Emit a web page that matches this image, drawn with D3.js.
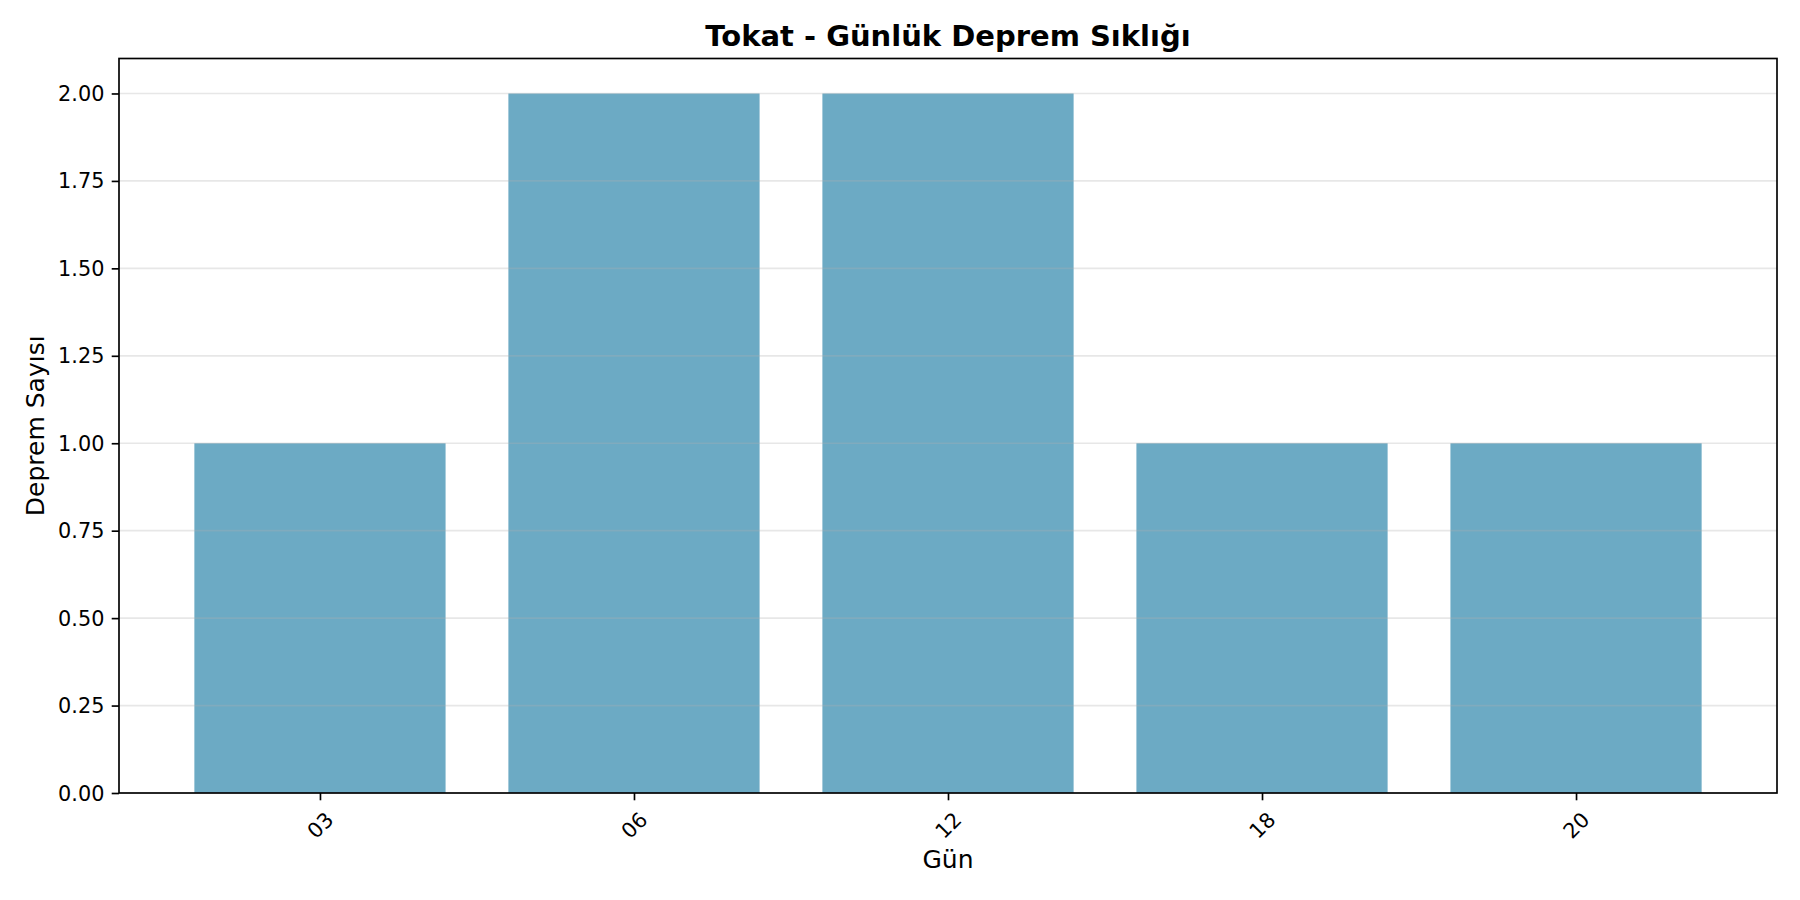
<!DOCTYPE html>
<html>
<head>
<meta charset="utf-8">
<script src="https://d3js.org/d3.v7.min.js"></script>
<style>
  body { margin: 0; background: #fff; }
  text { font-family: "DejaVu Sans", sans-serif; fill: #000; }
</style>
</head>
<body>
<div id="chart"></div>
<script>
// data
var days = ["03", "06", "12", "18", "20"]
var counts = [1, 2, 2, 1, 1]
var yTicks = [0, 0.25, 0.5, 0.75, 1, 1.25, 1.5, 1.75, 2]

var W = 1800, H = 900
// note: "top" is a read-only window property, so use other names
var axLeft = 119, axRight = 1777, axTop = 58.5, axBottom = 793
var tickLen = 7.3, pad = 7.3

var svg = d3.select("#chart").append("svg")
  .attr("width", W).attr("height", H)

// matplotlib-like limits: bars of width 0.8 and 5% margins
var x = d3.scaleLinear().domain([-0.64, days.length - 1 + 0.64]).range([axLeft, axRight])
var y = d3.scaleLinear().domain([0, 2.1]).range([axBottom, axTop])
var barW = 0.8

// bars
svg.append("g").selectAll("rect")
  .data(counts)
  .enter().append("rect")
  .attr("x", function(d, i) { return x(i - barW / 2) })
  .attr("y", function(d) { return y(d) })
  .attr("width", function(d, i) { return x(i + barW / 2) - x(i - barW / 2) })
  .attr("height", function(d) { return y(0) - y(d) })
  .style("fill", "#2E86AB")
  .style("fill-opacity", 0.7)

// horizontal grid, over the bars like matplotlib does
svg.append("g").selectAll("line")
  .data(yTicks)
  .enter().append("line")
  .attr("x1", axLeft).attr("x2", axRight)
  .attr("y1", function(d) { return y(d) })
  .attr("y2", function(d) { return y(d) })
  .style("stroke", "#b0b0b0")
  .style("stroke-opacity", 0.3)
  .style("stroke-width", 1.67)

// y axis
var yAxis = svg.append("g")
  .attr("transform", "translate(" + axLeft + ",0)")
  .call(d3.axisLeft(y).tickValues(yTicks).tickSize(tickLen).tickPadding(pad).tickFormat(d3.format(".2f")))
yAxis.select(".domain").remove()
yAxis.selectAll("line").style("stroke", "#000").style("stroke-width", 1.67)
yAxis.selectAll("text")
  .style("font-size", "20.8px")
  .attr("dy", null)
  .attr("dominant-baseline", "central")

// x axis
var xAxis = svg.append("g")
  .attr("transform", "translate(0," + axBottom + ")")
  .call(d3.axisBottom(x).tickValues(d3.range(days.length)).tickSize(tickLen).tickFormat(function(i) { return days[i] }))
xAxis.select(".domain").remove()
xAxis.selectAll("line").style("stroke", "#000").style("stroke-width", 1.67)
xAxis.selectAll("text")
  .style("font-size", "20.8px")
  .attr("y", null).attr("dy", null)
  .attr("text-anchor", "middle")
  .attr("dominant-baseline", "central")
  .attr("transform", function() {
    var w = this.getComputedTextLength()
    var off = tickLen + pad + (w + 24.2) * 0.3536
    return "translate(0," + off + ") rotate(-45)"
  })

// frame
svg.append("rect")
  .attr("x", axLeft).attr("y", axTop)
  .attr("width", axRight - axLeft).attr("height", axBottom - axTop)
  .style("fill", "none")
  .style("stroke", "#000")
  .style("stroke-width", 1.67)

// title and labels
svg.append("text")
  .attr("x", (axLeft + axRight) / 2).attr("y", 46)
  .attr("text-anchor", "middle")
  .style("font-size", "29px").style("font-weight", "bold")
  .text("Tokat - Günlük Deprem Sıklığı")

svg.append("text")
  .attr("x", (axLeft + axRight) / 2).attr("y", 868)
  .attr("text-anchor", "middle")
  .style("font-size", "25px")
  .text("Gün")

svg.append("text")
  .attr("transform", "translate(44," + (axTop + axBottom) / 2 + ") rotate(-90)")
  .attr("text-anchor", "middle")
  .style("font-size", "25px")
  .text("Deprem Sayısı")
</script>
</body>
</html>
